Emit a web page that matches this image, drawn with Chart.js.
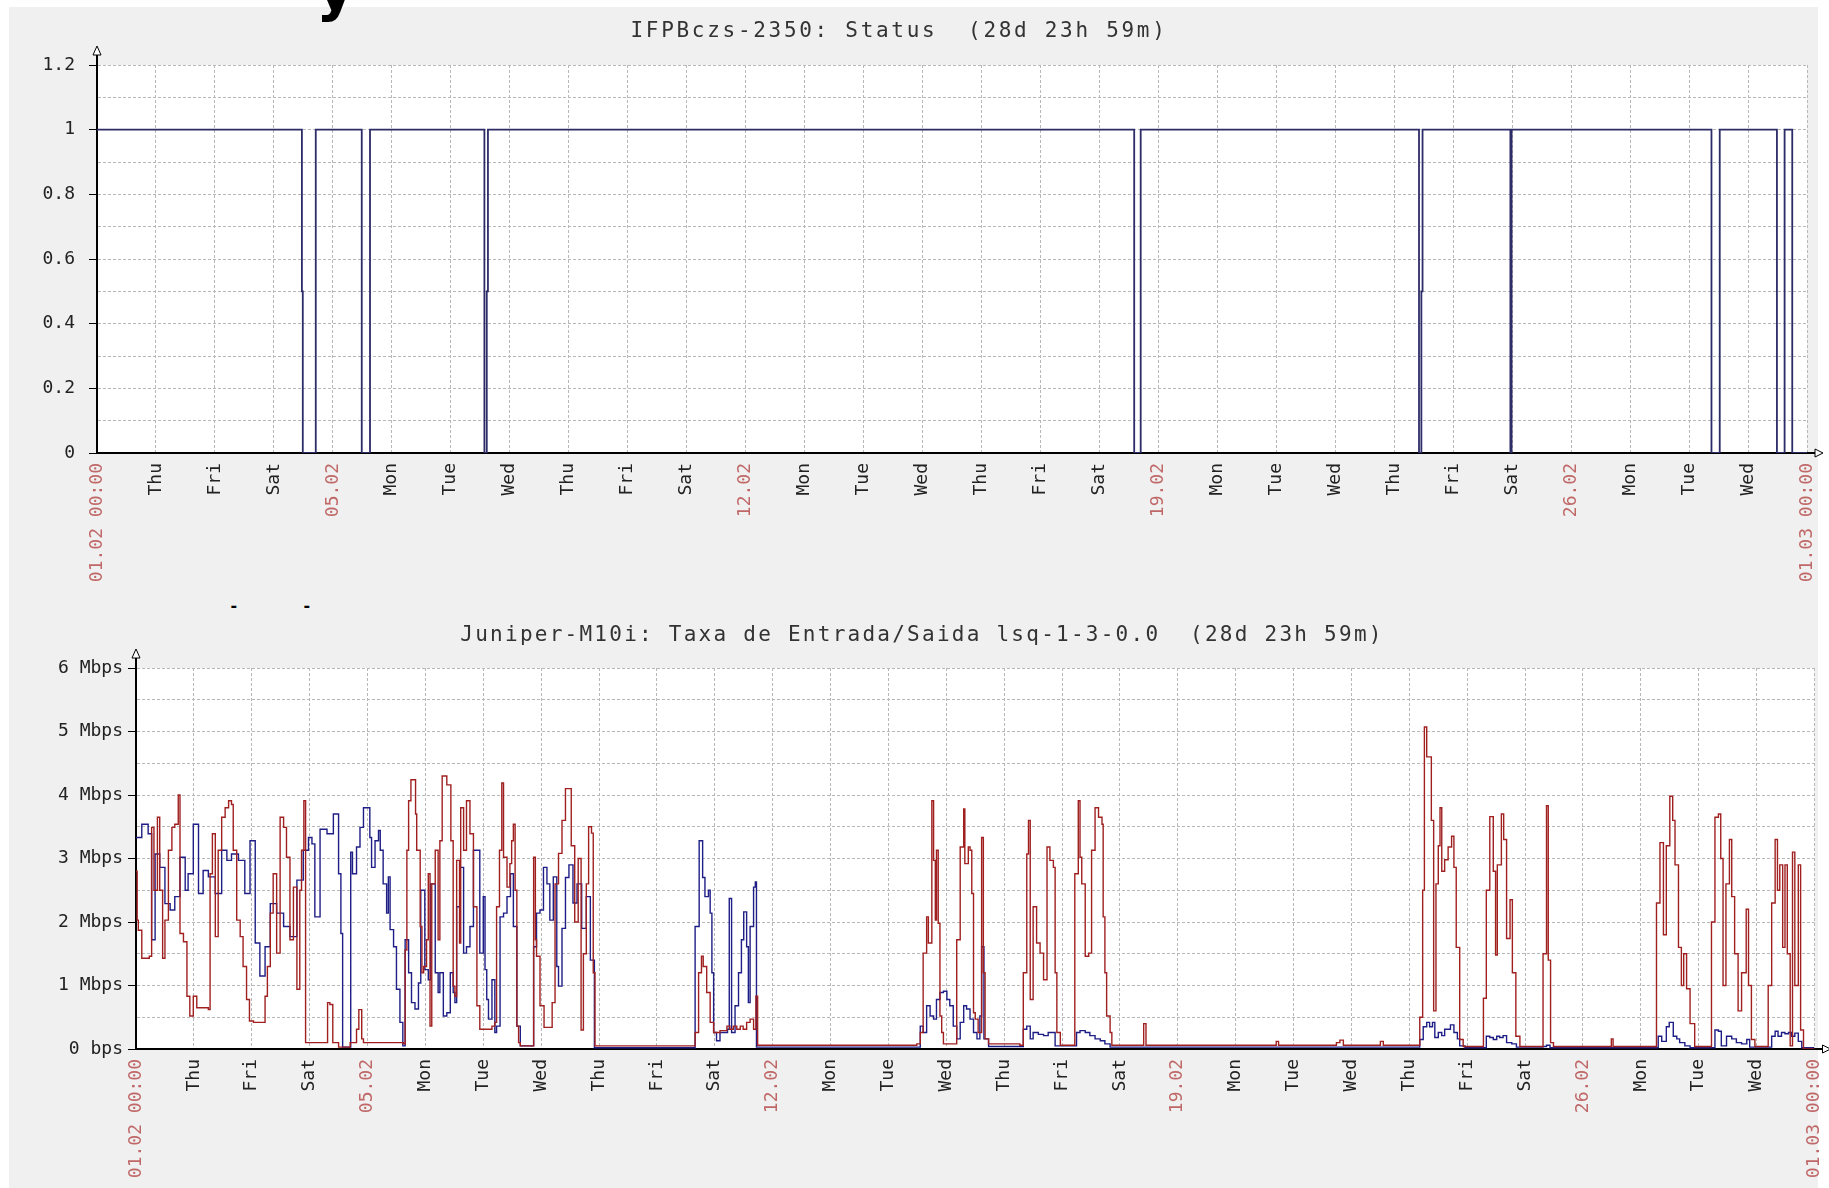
<!DOCTYPE html>
<html>
<head>
<meta charset="utf-8">
<script src="https://cdn.jsdelivr.net/npm/chart.js@4.4.1/dist/chart.umd.min.js"></script>
<style>
  body { margin: 0; width: 1829px; height: 1188px; overflow: hidden; position: relative; background: #fff; }
  #panel { position: absolute; left: 9px; top: 7px; width: 1809px; height: 1181px; background: #f0f0f0; }
  canvas { position: absolute; left: 0; }
  .title { position: absolute; font: 21px 'DejaVu Sans Mono', monospace; color: #333; white-space: pre; transform: translateX(-50%); }
  .frag { position: absolute; color: #000; line-height: 1; }
</style>
</head>
<body>
<div id="panel"></div>
<div class="frag" style="left:316px;top:-47px;font:bold 60px 'DejaVu Sans'">y</div>
<div class="frag" style="left:229px;top:596px;font:bold 16px 'DejaVu Sans Mono'">-</div>
<div class="frag" style="left:302px;top:596px;font:bold 16px 'DejaVu Sans Mono'">-</div>
<canvas id="statusChart" width="1829" height="600" style="top:0"></canvas>
<canvas id="trafficChart" width="1829" height="588" style="top:600px"></canvas>
<div class="title" style="left:899px;top:18px;letter-spacing:2.7px">IFPBczs-2350: Status  (28d 23h 59m)</div>
<div class="title" style="left:922px;top:622px;letter-spacing:2.25px">Juniper-M10i: Taxa de Entrada/Saida lsq-1-3-0.0  (28d 23h 59m)</div>
<script>
// x axis: days since 01.02 00:00, one label per midnight
const dayLabels = ["01.02 00:00", "Thu", "Fri", "Sat", "05.02", "Mon", "Tue", "Wed", "Thu", "Fri", "Sat", "12.02",
  "Mon", "Tue", "Wed", "Thu", "Fri", "Sat", "19.02", "Mon", "Tue", "Wed", "Thu", "Fri", "Sat", "26.02",
  "Mon", "Tue", "Wed", "01.03 00:00"];

// status (value holds from that day on)
const statusDays = [0, 3.475, 3.49, 3.71, 4.49, 4.63, 6.57, 6.61, 6.63, 17.59, 17.70, 22.42, 22.46, 22.48,
  23.97, 23.99, 27.38, 27.52, 28.49, 28.62, 28.75, 29];
const statusValues = [1, 0.5, 0, 1, 0, 1, 0, 0.5, 1, 0, 1, 0, 0.5, 1,
  0, 1, 0, 1, 0, 1, 0, 0];

// Entrada (blue), Mbps
const entradaDays = [0, 0.10, 0.21, 0.27, 0.33, 0.41, 0.50, 0.59, 0.67, 0.76, 0.85, 0.90, 0.99, 1.08, 1.16, 1.25,
  1.37, 1.48, 1.57, 1.65, 1.77, 1.88, 1.97, 2.06, 2.14, 2.23, 2.32, 2.43, 2.55, 2.66, 2.78, 2.89, 2.98, 3.04,
  3.09, 3.18, 3.30, 3.41, 3.50, 3.54, 3.57, 3.71, 3.74, 3.81, 3.87, 3.93, 4.04, 4.07, 4.13, 4.19, 4.22, 4.27,
  4.33, 4.36, 4.39, 4.45, 4.50, 4.56, 4.61, 4.65, 4.71, 4.76, 4.82, 4.88, 4.92, 4.99, 5.05, 5.09, 5.17, 5.22,
  5.25, 5.31, 5.37, 5.43, 5.48, 5.51, 5.54, 5.60, 5.66, 5.71, 5.77, 5.83, 5.94, 6.00, 6.03, 6.06, 6.09, 6.15,
  6.20, 6.23, 6.29, 6.35, 6.41, 6.47, 6.52, 6.58, 6.64, 6.87, 6.92, 6.98, 7.04, 7.10, 7.15, 7.21, 7.27, 7.30,
  7.36, 7.42, 7.48, 7.55, 7.62, 7.70, 7.78, 7.85, 7.92,
  9.66, 9.73, 9.79, 9.83, 9.89, 9.92, 9.95, 9.98, 10.03, 10.09, 10.22, 10.25, 10.29, 10.35, 10.41, 10.46,
  10.50, 10.55, 10.58, 10.61, 10.67, 10.70, 10.72,
  13.55, 13.60, 13.66, 13.72, 13.78, 13.83, 13.89, 13.95, 14.01, 14.06, 14.12, 14.18, 14.24, 14.30, 14.35,
  14.41, 14.47, 14.53, 14.58, 14.61, 14.65, 14.73,
  15.33, 15.39, 15.45, 15.50, 15.59, 15.68, 15.76, 15.85, 15.88,
  16.25, 16.31, 16.40, 16.48, 16.57, 16.66, 16.74, 16.83,
  22.18, 22.24, 22.30, 22.35, 22.40, 22.44, 22.50, 22.56, 22.61, 22.67, 22.71, 22.77, 22.83, 22.87, 22.96,
  23.33, 23.39, 23.45, 23.51, 23.56, 23.62, 23.68, 23.77, 23.85,
  24.31, 24.37, 24.43,
  26.30, 26.36, 26.44, 26.49, 26.56, 26.62, 26.67, 26.76, 26.85,
  27.28, 27.34, 27.39, 27.48, 27.57, 27.65, 27.74, 27.83, 27.88,
  28.26, 28.32, 28.37, 28.43, 28.49, 28.55, 28.60, 28.66, 28.72, 28.78, 29];
const entradaMbps = [3.33, 3.54, 3.39, 1.72, 3.07, 2.86, 2.29, 2.19, 2.40, 3.02, 2.50, 2.76, 3.54, 2.45, 2.81, 2.71,
  2.45, 3.13, 2.97, 3.07, 2.97, 2.45, 3.28, 1.67, 1.15, 1.61, 2.29, 2.14, 1.93, 1.77, 2.66, 3.13, 3.33, 3.23,
  2.08, 3.46, 3.39, 3.70, 2.76, 1.82, 0.03, 3.10, 2.76, 3.18, 3.49, 3.80, 3.33, 2.86, 3.28, 3.44, 3.13, 2.60,
  2.14, 2.71, 1.88, 1.61, 0.94, 0.42, 0.05, 1.72, 1.20, 0.73, 0.63, 1.04, 2.50, 1.25, 1.09, 2.60, 1.20, 0.89,
  1.20, 0.52, 0.57, 1.20, 0.89, 0.73, 2.24, 2.86, 1.51, 1.61, 1.93, 3.13, 1.51, 2.40, 1.25, 0.78, 0.47, 1.09,
  0.26, 0.36, 2.08, 2.14, 2.40, 2.76, 1.93, 0.36, 0.05, 1.61, 2.14, 2.19, 2.86, 2.60, 2.03, 2.71, 1.30, 0.99,
  1.90, 2.70, 2.90, 2.30, 2.60, 1.90, 2.40, 1.40, 0.02,
  1.93, 3.28, 2.70, 2.40, 2.50, 2.14, 1.20, 0.26, 0.13, 0.26, 0.31, 2.37, 0.26, 0.68, 1.20, 1.72,
  2.16, 1.61, 0.73, 1.93, 2.55, 2.63, 0.03,
  0.36, 0.26, 0.68, 0.52, 0.47, 0.78, 0.89, 0.91, 0.78, 0.68, 0.36, 0.16, 0.42, 0.68, 0.63,
  0.47, 0.26, 0.16, 0.52, 1.61, 0.16, 0.04,
  0.31, 0.36, 0.16, 0.26, 0.23, 0.21, 0.26, 0.26, 0.05,
  0.26, 0.29, 0.26, 0.21, 0.16, 0.13, 0.08, 0.03,
  0.15, 0.35, 0.42, 0.35, 0.42, 0.18, 0.26, 0.21, 0.31, 0.31, 0.38, 0.26, 0.16, 0.05, 0.02,
  0.20, 0.18, 0.15, 0.20, 0.18, 0.21, 0.10, 0.08, 0.03,
  0.04, 0.06, 0.02,
  0.20, 0.12, 0.35, 0.42, 0.20, 0.16, 0.10, 0.05, 0.02,
  0.30, 0.28, 0.05, 0.20, 0.16, 0.10, 0.08, 0.15, 0.03,
  0.20, 0.28, 0.20, 0.26, 0.24, 0.26, 0.20, 0.25, 0.12, 0.02, 0.02];

// Saida (red), Mbps
const saidaDays = [0, 0.02, 0.04, 0.10, 0.23, 0.27, 0.31, 0.37, 0.41, 0.46, 0.50, 0.56, 0.62, 0.67, 0.73, 0.76,
  0.82, 0.88, 0.93, 0.99, 1.05, 1.25, 1.28, 1.32, 1.37, 1.42, 1.48, 1.54, 1.60, 1.65, 1.68, 1.74, 1.80, 1.85,
  1.91, 1.96, 2.03, 2.23, 2.27, 2.32, 2.37, 2.43, 2.49, 2.55, 2.60, 2.66, 2.72, 2.78, 2.83, 2.86, 2.90, 2.93,
  3.31, 3.35, 3.40, 3.50, 3.70, 3.81, 3.85, 3.90, 3.93, 4.62, 4.65, 4.68, 4.71, 4.75, 4.83, 4.85, 4.91, 4.94,
  4.97, 5.02, 5.05, 5.08, 5.11, 5.17, 5.22, 5.25, 5.29, 5.37, 5.44, 5.48, 5.51, 5.54, 5.59, 5.61, 5.66, 5.71,
  5.77, 5.83, 5.89, 5.94, 6.15, 6.20, 6.23, 6.28, 6.32, 6.35, 6.41, 6.46, 6.49, 6.52, 6.55, 6.58, 6.61, 6.64,
  6.87, 6.90, 6.92, 6.98, 7.05, 7.19, 7.24, 7.30, 7.36, 7.42, 7.52, 7.58, 7.64, 7.69, 7.73, 7.78, 7.82, 7.87,
  7.90, 7.93,
  9.66, 9.72, 9.77, 9.80, 9.86, 9.92, 9.98, 10.09, 10.21, 10.26, 10.32, 10.38, 10.44, 10.49, 10.55, 10.61,
  10.67, 10.71, 10.74,
  13.49, 13.55, 13.60, 13.66, 13.69, 13.75, 13.78, 13.81, 13.83, 13.86, 13.89, 13.92, 13.95, 14.18, 14.24,
  14.30, 14.32, 14.38, 14.41, 14.44, 14.47, 14.50, 14.55, 14.61, 14.64, 14.67, 14.73, 15.27, 15.33, 15.39,
  15.42, 15.45, 15.50, 15.56, 15.62, 15.68, 15.74, 15.79, 15.85, 15.88, 15.91, 15.97, 16.22, 16.28, 16.31,
  16.34, 16.40, 16.46, 16.51, 16.57, 16.63, 16.69, 16.71, 16.74, 16.77, 16.83, 16.86,
  17.41, 17.45, 19.70, 19.74, 20.74, 20.80, 20.86, 21.50, 21.55,
  22.18, 22.23, 22.26, 22.30, 22.38, 22.42, 22.46, 22.50, 22.53, 22.56, 22.61, 22.67, 22.73, 22.77, 22.81,
  22.87, 22.93, 23.28, 23.33, 23.39, 23.45, 23.49, 23.52, 23.59, 23.63, 23.68, 23.74, 23.78, 23.84, 23.91,
  24.31, 24.37, 24.40, 24.44, 24.49, 25.49, 25.52,
  26.27, 26.33, 26.39, 26.44, 26.50, 26.55, 26.59, 26.65, 26.70, 26.74, 26.79, 26.85, 26.93, 27.22, 27.28,
  27.34, 27.38, 27.42, 27.47, 27.53, 27.57, 27.62, 27.68, 27.74, 27.82, 27.86, 27.91, 27.97, 28.20, 28.26,
  28.32, 28.36, 28.40, 28.45, 28.49, 28.53, 28.58, 28.62, 28.66, 28.72, 28.76, 28.81, 29];
const saidaMbps = [2.80, 2.03, 1.87, 1.43, 1.46, 3.49, 2.50, 3.65, 2.50, 1.43, 2.03, 3.13, 3.49, 3.54, 4.00, 1.82,
  1.69, 0.83, 0.52, 0.83, 0.65, 0.62, 2.76, 3.39, 1.77, 3.13, 3.65, 3.80, 3.91, 3.85, 3.13, 2.03, 1.77, 1.30,
  0.78, 0.44, 0.42, 0.83, 1.30, 2.14, 2.76, 1.51, 3.65, 3.49, 3.02, 1.72, 2.55, 0.94, 2.50, 3.13, 3.91, 0.10,
  0.73, 0.70, 0.10, 0.03, 0.10, 0.31, 0.62, 0.16, 0.10, 0.08, 1.56, 3.13, 3.91, 4.24, 3.70, 3.13, 1.93, 1.20,
  1.30, 1.72, 2.76, 0.36, 2.60, 3.13, 1.72, 3.28, 4.30, 4.16, 3.28, 0.99, 0.83, 2.97, 1.67, 3.80, 3.13, 3.91,
  3.39, 2.24, 0.68, 0.31, 0.36, 0.42, 2.24, 3.13, 4.19, 3.02, 2.55, 2.92, 3.28, 3.54, 2.50, 0.36, 0.10, 0.05,
  3.02, 1.72, 1.46, 0.68, 0.34, 0.73, 2.60, 3.08, 3.60, 4.10, 3.20, 2.00, 3.00, 0.30, 1.50, 2.60, 3.50, 3.40,
  1.20, 0.05,
  0.26, 1.20, 1.46, 1.30, 0.89, 0.42, 0.26, 0.29, 0.36, 0.31, 0.36, 0.31, 0.36, 0.31, 0.42, 0.47,
  0.31, 0.83, 0.06,
  0.08, 0.26, 1.51, 2.08, 1.67, 3.91, 2.97, 2.03, 3.13, 1.98, 0.52, 0.26, 0.08, 1.72, 3.18,
  3.78, 2.92, 3.18, 3.13, 2.45, 0.57, 0.47, 0.26, 3.33, 1.20, 0.16, 0.08, 0.06, 1.20, 3.07,
  3.60, 0.78, 2.24, 1.67, 1.51, 1.09, 3.18, 2.97, 2.86, 1.20, 0.26, 0.06, 2.76, 3.91, 3.02,
  2.60, 1.46, 1.51, 3.13, 3.80, 3.65, 3.54, 2.08, 1.20, 0.52, 0.26, 0.06,
  0.40, 0.06, 0.12, 0.06, 0.10, 0.14, 0.06, 0.12, 0.06,
  0.50, 2.50, 5.07, 4.60, 3.60, 0.60, 2.60, 3.20, 3.80, 2.80, 2.98, 3.18, 3.35, 2.86, 1.60,
  0.15, 0.04, 0.80, 2.50, 3.66, 2.80, 1.48, 2.90, 3.70, 3.30, 1.74, 2.35, 1.20, 0.20, 0.04,
  1.50, 3.83, 1.40, 0.10, 0.04, 0.16, 0.04,
  2.30, 3.25, 1.80, 3.20, 3.98, 3.60, 2.90, 1.60, 1.00, 1.50, 0.95, 0.40, 0.04, 2.00, 3.65,
  3.70, 3.00, 1.00, 2.60, 3.30, 2.40, 1.50, 0.60, 1.20, 2.20, 1.00, 0.15, 0.04, 1.00, 2.30,
  3.30, 2.50, 2.90, 1.60, 2.90, 1.50, 0.05, 3.10, 1.00, 2.90, 0.30, 0.00, 0.00];

const tickFont = { family: "'DejaVu Sans Mono', monospace", size: 18 };
const gridColor = "#b8b8b8";
const dateLabelColor = "#c06868";

function toPoints(days, vals) {
  return days.map((d, i) => ({ x: d, y: vals[i] }));
}

// white plot background, axis arrows
const plotDecor = {
  id: "plotDecor",
  beforeDraw(chart) {
    const { ctx, chartArea: a } = chart;
    ctx.save();
    ctx.fillStyle = "#fff";
    ctx.fillRect(a.left, a.top, a.right - a.left, a.bottom - a.top);
    ctx.restore();
  },
  afterDraw(chart) {
    const { ctx, chartArea: a } = chart;
    ctx.save();
    ctx.strokeStyle = "#000";
    ctx.lineWidth = 2;
    ctx.beginPath();
    ctx.moveTo(a.left, a.top);
    ctx.lineTo(a.left, a.top - 10);
    ctx.moveTo(a.right, a.bottom);
    ctx.lineTo(a.right + 8, a.bottom);
    ctx.stroke();
    ctx.lineWidth = 1;
    ctx.fillStyle = "#fff";
    ctx.beginPath();
    ctx.moveTo(a.left - 4, a.top - 10);
    ctx.lineTo(a.left + 4, a.top - 10);
    ctx.lineTo(a.left, a.top - 19);
    ctx.closePath();
    ctx.fill();
    ctx.stroke();
    ctx.beginPath();
    ctx.moveTo(a.right + 8, a.bottom - 4);
    ctx.lineTo(a.right + 8, a.bottom + 4);
    ctx.lineTo(a.right + 16, a.bottom);
    ctx.closePath();
    ctx.fill();
    ctx.stroke();
    ctx.restore();
  }
};

function xScale(axisHeight) {
  return {
    type: "linear",
    min: 0,
    max: 29,
    // fixed axis height; no extra side padding for the rotated end labels
    afterFit: s => { s.height = axisHeight; s.paddingLeft = 0; s.paddingRight = 0; },
    ticks: {
      stepSize: 1,
      autoSkip: false,
      maxRotation: 90,
      minRotation: 90,
      padding: 10,
      font: tickFont,
      color: c => (dayLabels[Math.round(c.tick.value)] || "").includes(".") ? dateLabelColor : "#222",
      callback: v => dayLabels[Math.round(v)]
    },
    grid: { color: gridColor, drawTicks: false },
    border: { color: "#000", width: 2, dash: [3, 2] }
  };
}

function yScale(max, step, axisWidth, pad, isMajor, label) {
  return {
    min: 0,
    max: max,
    afterFit: s => { s.width = axisWidth; s.paddingTop = 0; s.paddingBottom = 0; },
    ticks: {
      stepSize: step,
      autoSkip: false,
      padding: pad,
      font: tickFont,
      color: "#222",
      callback: v => isMajor(v) ? label(v) : ""
    },
    grid: {
      color: gridColor,
      tickLength: 8,
      tickColor: c => c.tick && isMajor(c.tick.value) ? "#000" : "rgba(0,0,0,0)"
    },
    border: { color: "#000", width: 2, dash: [3, 2] }
  };
}

new Chart(document.getElementById("statusChart"), {
  type: "line",
  data: {
    datasets: [{
      data: toPoints(statusDays, statusValues),
      borderColor: "#2c2c68",
      borderWidth: 1.8,
      stepped: "before",
      pointRadius: 0,
      fill: false
    }]
  },
  options: {
    responsive: false,
    animation: false,
    events: [],
    layout: { padding: { top: 65, right: 22, left: 0, bottom: 0 } },
    plugins: { legend: { display: false }, tooltip: { enabled: false } },
    scales: {
      x: xScale(147),
      y: yScale(1.2, 0.1, 97, 14,
        v => Math.round(v * 10) % 2 === 0,
        v => (Math.round(v * 10) % 10 === 0) ? String(Math.round(v)) : v.toFixed(1))
    }
  },
  plugins: [plotDecor]
});

new Chart(document.getElementById("trafficChart"), {
  type: "line",
  data: {
    datasets: [{
      label: "Saida",
      data: toPoints(saidaDays, saidaMbps),
      borderColor: "#a02020",
      borderWidth: 1.4,
      stepped: "before",
      pointRadius: 0,
      fill: false,
      order: 0
    }, {
      label: "Entrada",
      data: toPoints(entradaDays, entradaMbps),
      borderColor: "#1e1e86",
      borderWidth: 1.4,
      stepped: "before",
      pointRadius: 0,
      fill: false,
      order: 1
    }]
  },
  options: {
    responsive: false,
    animation: false,
    events: [],
    layout: { padding: { top: 68, right: 14.5, left: 28, bottom: 0 } },
    plugins: { legend: { display: false }, tooltip: { enabled: false } },
    scales: {
      x: xScale(139),
      y: yScale(6, 0.5, 108, 5,
        v => Math.abs(v - Math.round(v)) < 0.01,
        v => Math.round(v) === 0 ? "0 bps" : Math.round(v) + " Mbps")
    }
  },
  plugins: [plotDecor]
});
</script>
</body>
</html>
